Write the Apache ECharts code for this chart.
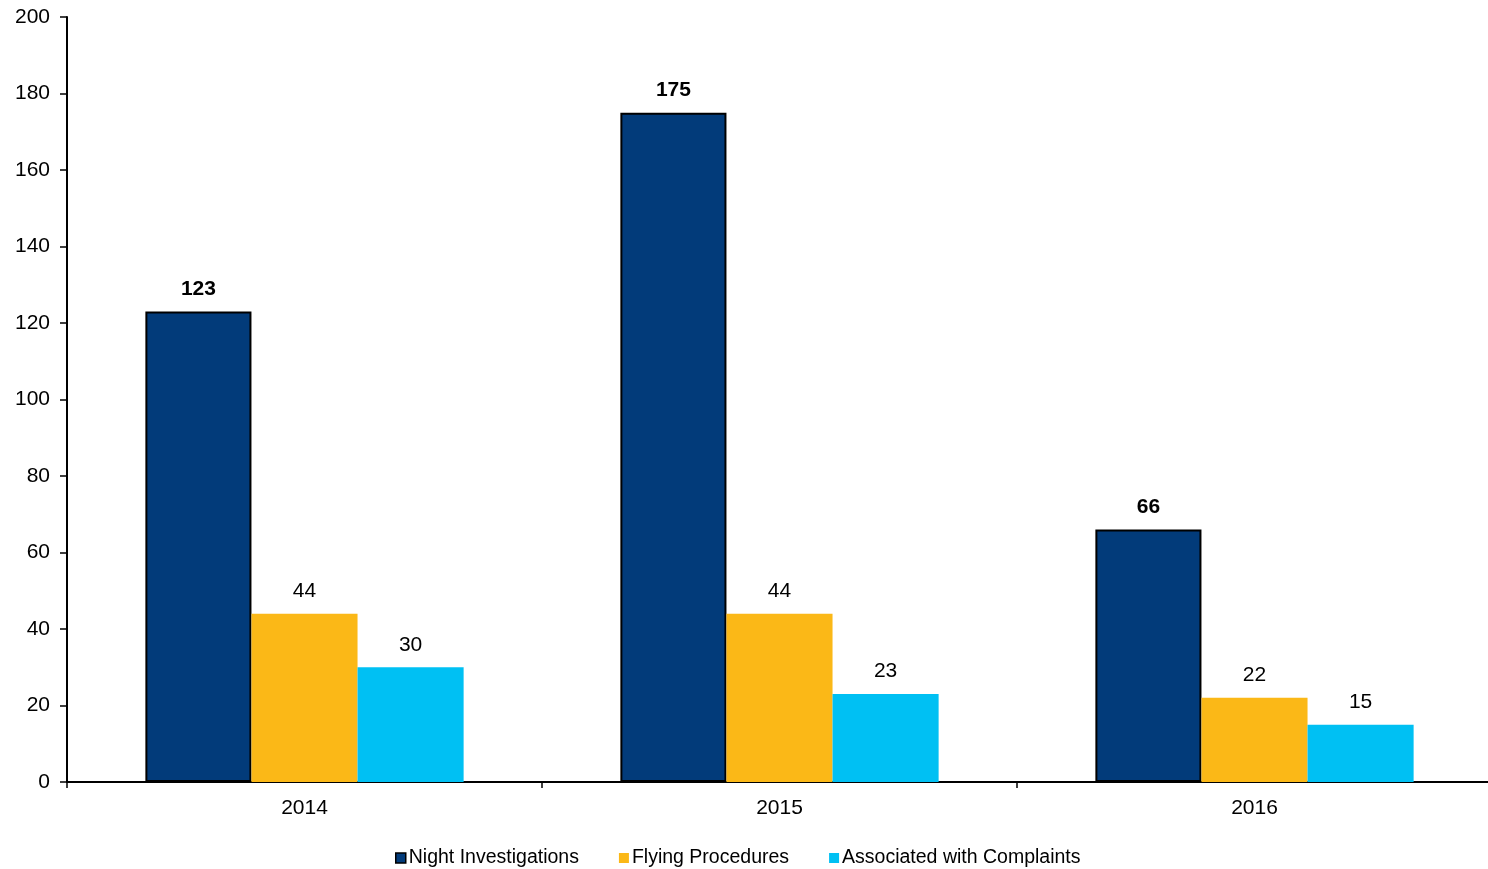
<!DOCTYPE html>
<html><head><meta charset="utf-8">
<script src="https://cdn.jsdelivr.net/npm/echarts@6/dist/echarts.min.js"></script>
<style>html,body{margin:0;padding:0;background:#fff}#c{width:1488px;height:869px}</style>
</head><body><div id="c"></div>
<script>
const categories = ['2014', '2015', '2016'];
const nightInvestigations = [123, 175, 66];
const flyingProcedures = [44, 44, 22];
const associatedWithComplaints = [30, 23, 15];
const seriesNames = ['Night Investigations', 'Flying Procedures', 'Associated with Complaints'];

const font = '"Liberation Sans", Arial, sans-serif';
const chart = echarts.init(document.getElementById('c'));
chart.setOption({
  animation: false,
  backgroundColor: '#fff',
  grid: { left: 67, width: 1425, top: 17, height: 765, containLabel: false, outerBoundsMode: 'none' },
  legend: {
    top: 843, left: 390, icon: 'rect', itemWidth: 10, itemHeight: 10, itemGap: 40,
    textStyle: { fontFamily: font, fontSize: 19.5, color: '#000', padding: [0, 0, 0, -2] },
    data: [
      { name: seriesNames[0], itemStyle: { borderColor: '#000', borderWidth: 1.5 } },
      { name: seriesNames[1] },
      { name: seriesNames[2] }
    ]
  },
  xAxis: {
    type: 'category', data: categories,
    axisLine: { lineStyle: { color: '#000', width: 2 } },
    axisTick: { show: true, length: 6, lineStyle: { color: '#000', width: 1.5 } },
    axisLabel: { fontFamily: font, fontSize: 21, color: '#000', margin: 16 }
  },
  yAxis: {
    type: 'value', min: 0, max: 200, interval: 20,
    splitLine: { show: false },
    axisLine: { show: true, lineStyle: { color: '#000', width: 2 } },
    axisTick: { show: true, length: 7, lineStyle: { color: '#000', width: 1.5 } },
    axisLabel: { fontFamily: font, fontSize: 21, color: '#000', margin: 17 }
  },
  series: [
    {
      name: seriesNames[0], type: 'bar', data: nightInvestigations,
      barGap: '0%', barCategoryGap: '33%',
      itemStyle: { color: '#023B7A', borderColor: '#000', borderWidth: 2 },
      label: { show: true, position: 'top', distance: 12, fontFamily: font, fontSize: 21, fontWeight: 'bold', color: '#000' }
    },
    {
      name: seriesNames[1], type: 'bar', data: flyingProcedures,
      itemStyle: { color: '#FBB817' },
      label: { show: true, position: 'top', distance: 12, fontFamily: font, fontSize: 21, color: '#000' }
    },
    {
      name: seriesNames[2], type: 'bar', data: associatedWithComplaints,
      itemStyle: { color: '#00C0F3' },
      label: { show: true, position: 'top', distance: 12, fontFamily: font, fontSize: 21, color: '#000' }
    }
  ]
});
</script></body></html>
